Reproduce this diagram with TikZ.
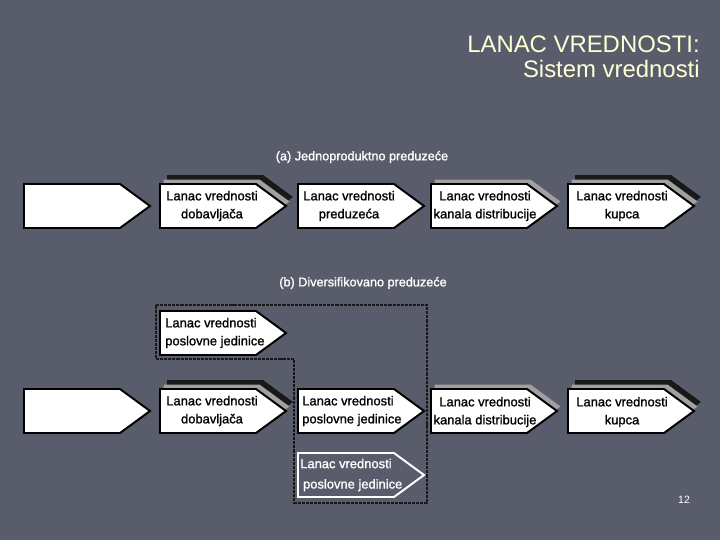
\documentclass[tikz,border=0pt]{standalone}
\usepackage{fontspec}
\setmainfont{Liberation Sans}
\newfontfamily\chainfont[FakeBold=1.2]{Liberation Sans}

\definecolor{slide}{RGB}{89,92,107}
\definecolor{titlecol}{RGB}{255,255,214}
\definecolor{shadegray}{RGB}{160,160,160}

% one pentagon of the value chain, top left corner at (#2,#3)
\newcommand{\chainshape}[3][]{%
  \path[#1] (#2,#3) -- ++(96,0) -- ++(30,22) -- ++(-30,22) -- ++(-96,0) -- cycle;}

\begin{document}
\begin{tikzpicture}[x=0.025cm,y=-0.025cm,
  chainbox/.style={draw=black,line width=1.4pt,fill=white},
  ghostbox/.style={draw=white,line width=1.4pt},
  darkshade/.style={fill=black!90},
  lightshade/.style={fill=shadegray},
  chaintext/.style={font=\chainfont\fontsize{9.2}{12.8}\selectfont,align=center,inner sep=0pt},
  caption/.style={font=\chainfont\fontsize{9}{11}\selectfont,text=white,inner sep=0pt},
  frame/.style={black!90,line width=2.1pt,dash pattern=on 2.2pt off 0.7pt}]
\fill[slide] (0,0) rectangle (720,540);
\useasboundingbox (0,0) rectangle (720,540);

\node[anchor=east,align=right,text=titlecol,inner sep=0pt,
  font=\fontsize{17}{17.7}\selectfont] (title) at (700,57)
  {LANAC VREDNOSTI:\\Sistem vrednosti};

% (a)
\node[caption] (capa) at (362,157) {(a) Jednoproduktno preduze\'ce};
\chainshape[darkshade]{167}{175}
\chainshape[lightshade]{163.5}{179.5}
\chainshape[lightshade]{434.5}{179.5}
\chainshape[darkshade]{575}{175}
\chainshape[lightshade]{571.5}{179.5}
\chainshape[chainbox]{24}{184}
\chainshape[chainbox]{160}{184}
\chainshape[chainbox]{298}{184}
\chainshape[chainbox]{431}{184}
\chainshape[chainbox]{568}{184}
\node[chaintext] (supa) at (212,206) {Lanac vrednosti\\dobavlja\v ca};
\node[chaintext] (firma) at (349,206) {Lanac vrednosti\\preduze\'ca};
\node[chaintext] (dista) at (485,206) {Lanac vrednosti\\kanala distribucije};
\node[chaintext] (custa) at (622,206) {Lanac vrednosti\\kupca};

% (b)
\node[caption] (capb) at (363,283) {(b) Diversifikovano preduze\'ce};
\draw[frame] (156,305) -- (427,305) -- (427,503) -- (294,503) -- (294,359) -- (156,359) -- cycle;
\chainshape[chainbox]{160}{311}
\chainshape[darkshade]{167}{380}
\chainshape[lightshade]{163.5}{384.5}
\chainshape[lightshade]{434.5}{384.5}
\chainshape[darkshade]{575}{380}
\chainshape[lightshade]{571.5}{384.5}
\chainshape[chainbox]{24}{389}
\chainshape[chainbox]{160}{389}
\chainshape[chainbox]{298}{389}
\chainshape[chainbox]{431}{389}
\chainshape[chainbox]{568}{389}
\chainshape[ghostbox]{298}{453}
\node[chaintext,anchor=west,align=left] (unitb1) at (165,333) {Lanac vrednosti\\poslovne jedinice};
\node[chaintext] (supb) at (212,411) {Lanac vrednosti\\dobavlja\v ca};
\node[chaintext,anchor=west,align=left] (unitb2) at (302,411) {Lanac vrednosti\\poslovne jedinice};
\node[chaintext] (distb) at (485,412) {Lanac vrednosti\\kanala distribucije};
\node[chaintext] (custb) at (622,412) {Lanac vrednosti\\kupca};
\node[chaintext,anchor=west,align=left,text=white,
  font=\chainfont\fontsize{9.2}{14.5}\selectfont] (unitb3) at (300,475) {Lanac vrednosti\\\hspace*{2pt}poslovne jedinice};

\node[caption,font=\fontsize{7.5}{9}\selectfont] (page) at (684,500) {12};
\end{tikzpicture}
\end{document}
